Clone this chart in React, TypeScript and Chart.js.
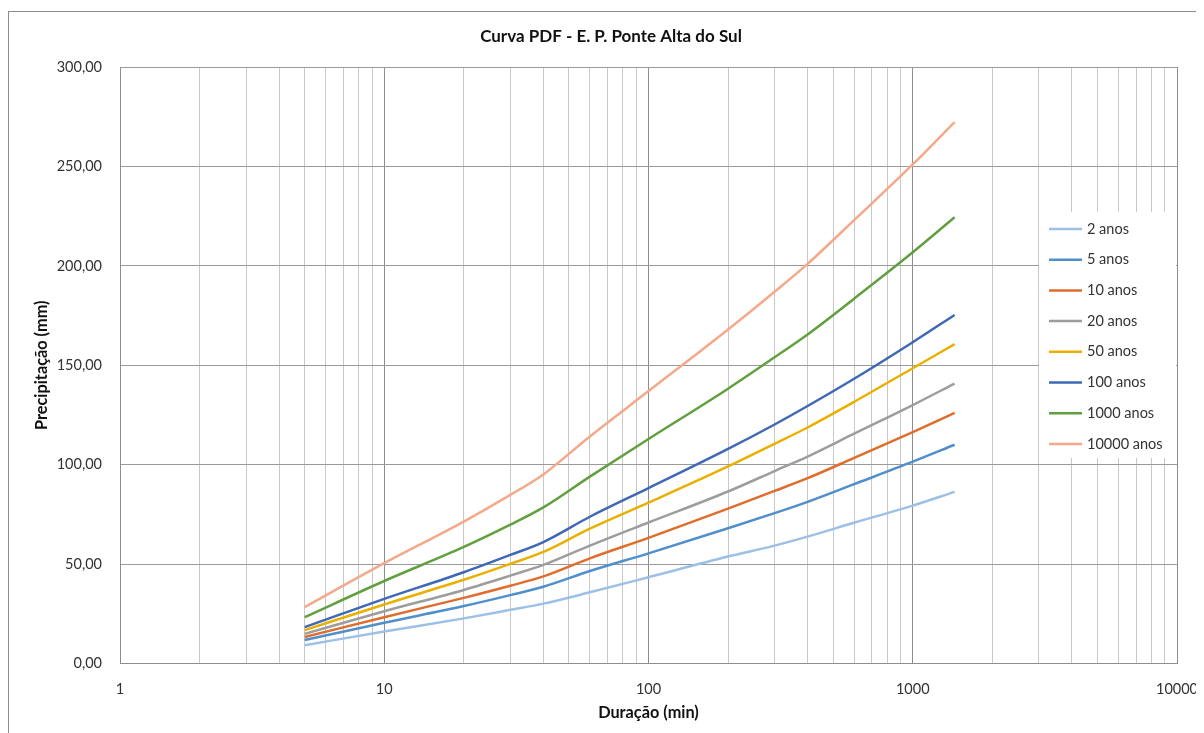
import React, { useEffect, useRef } from 'react';
import { Chart, registerables } from 'chart.js';

Chart.register(...registerables);

// Durations (min)
const durations = [5, 10, 20, 30, 40, 60, 100, 200, 300, 400, 600, 1000, 1440];

const seriesNames = ['2 anos', '5 anos', '10 anos', '20 anos', '50 anos', '100 anos', '1000 anos', '10000 anos'];

const tr2 = [9.2, 16.1, 22.7, 27.0, 30.1, 35.8, 43.4, 53.8, 59.3, 63.8, 70.8, 79.4, 86.3];
const tr5 = [11.8, 20.5, 28.9, 34.4, 38.6, 46.5, 55.4, 68.0, 75.6, 81.3, 90.2, 101.5, 110.0];
const tr10 = [13.3, 23.3, 33.0, 39.1, 43.8, 52.9, 63.2, 77.9, 86.8, 93.2, 103.4, 116.4, 126.0];
const tr20 = [14.9, 26.3, 37.0, 44.2, 49.6, 59.3, 70.9, 86.5, 96.8, 104.1, 115.6, 130.0, 140.8];
const tr50 = [16.8, 29.7, 42.1, 50.1, 56.1, 67.8, 80.9, 99.1, 110.5, 118.7, 131.6, 148.5, 160.6];
const tr100 = [18.3, 32.5, 45.9, 54.6, 61.1, 73.8, 88.2, 107.9, 120.2, 129.5, 143.2, 161.6, 175.3];
const tr1000 = [23.3, 41.5, 58.6, 69.8, 78.5, 94.0, 112.9, 138.2, 154.0, 165.5, 183.5, 206.8, 224.4];
const tr10000 = [28.4, 50.5, 71.4, 84.8, 95.1, 114.2, 137.0, 168.0, 187.0, 201.0, 223.0, 251.0, 272.3];

const seriesValues = [tr2, tr5, tr10, tr20, tr50, tr100, tr1000, tr10000];

const seriesColors = ['#9dc0e6', '#4f8fcb', '#df6d2b', '#9d9d9d', '#eab000', '#3f68b7', '#62a03f', '#f4a98a'];

const xDecades = [1, 10, 100, 1000, 10000];

const titleText = 'Curva PDF - E. P. Ponte Alta do Sul';
const xTitle = 'Duração (min)';
const yTitle = 'Precipitação (mm)';

const FONT = 'Lato, "Open Sans", sans-serif';

const isDecade = (v: number) => xDecades.some((d) => Math.abs(d - v) < 1e-9);

const overlayPlugin = {
  id: 'overlay',
  afterDraw(chart: any) {
    const ctx = chart.ctx as CanvasRenderingContext2D;
    const area = chart.chartArea;
    ctx.save();
    // title
    ctx.fillStyle = '#111111';
    ctx.font = `bold 17px ${FONT}`;
    ctx.textAlign = 'center';
    ctx.textBaseline = 'middle';
    ctx.fillText(titleText, 603, 29);

    // legend
    const lx = area.right - 138;
    const ly = 204;
    ctx.fillStyle = '#ffffff';
    ctx.fillRect(lx, ly, 137, 246);
    ctx.font = `14.5px ${FONT}`;
    ctx.textAlign = 'left';
    chart.data.datasets.forEach((ds: any, i: number) => {
      const y = ly + 17 + i * 30.7;
      ctx.strokeStyle = ds.borderColor;
      ctx.lineWidth = 2.5;
      ctx.beginPath();
      ctx.moveTo(lx + 10, y);
      ctx.lineTo(lx + 43, y);
      ctx.stroke();
      ctx.fillStyle = '#333333';
      ctx.fillText(ds.label, lx + 48, y);
    });
    ctx.restore();
  },
};

export default function App() {
  const canvasRef = useRef<HTMLCanvasElement | null>(null);

  useEffect(() => {
    document.documentElement.style.overflow = 'hidden';
    document.body.style.overflow = 'hidden';
    if (!canvasRef.current) return;
    const datasets = seriesNames.map((name, si) => ({
      label: name,
      data: durations.map((d, i) => ({ x: d, y: seriesValues[si][i] })),
      borderColor: seriesColors[si],
      backgroundColor: seriesColors[si],
      borderWidth: 2.5,
      pointRadius: 0,
      fill: false,
      cubicInterpolationMode: 'monotone' as const,
    }));

    const chart = new Chart(canvasRef.current, {
      type: 'line',
      data: { datasets },
      plugins: [overlayPlugin],
      options: {
        animation: false,
        responsive: false,
        maintainAspectRatio: false,
        layout: { padding: { top: 59, right: 27, left: 0, bottom: 0 } },
        plugins: {
          legend: { display: false },
          title: { display: false },
          tooltip: { enabled: false },
        },
        scales: {
          x: {
            type: 'logarithmic',
            min: 1,
            max: 10000,
            afterFit: (scale: any) => {
              scale.height = 69.5;
            },
            afterBuildTicks: (scale: any) => {
              const ticks: any[] = [];
              for (let dec = 1; dec < 10000; dec *= 10) {
                for (let m = 1; m < 10; m++) ticks.push({ value: dec * m });
              }
              ticks.push({ value: 10000 });
              scale.ticks = ticks;
            },
            grid: {
              drawTicks: true,
              tickLength: 17.6,
              tickColor: 'rgba(0,0,0,0)',
              color: (ctx: any) => (ctx.tick && isDecade(ctx.tick.value) ? '#8e8e8e' : '#c8c8c8'),
              lineWidth: 1,
            },
            border: { display: true, color: '#8e8e8e' },
            ticks: {
              autoSkip: false,
              maxRotation: 0,
              padding: 0,
              color: '#333333',
              font: { family: FONT, size: 14.5 },
              callback: (v: any) => (isDecade(Number(v)) ? String(Number(v)) : ''),
            },
            title: {
              display: true,
              text: xTitle,
              color: '#111111',
              font: { family: FONT, size: 16.3, weight: 'bold' },
              padding: { top: 0, bottom: 10.2 },
            },
          },
          y: {
            type: 'linear',
            min: 0,
            max: 300,
            afterFit: (scale: any) => {
              scale.width = 112;
            },
            grid: {
              drawTicks: true,
              tickLength: 18,
              tickColor: 'rgba(0,0,0,0)',
              color: '#9a9a9a',
              lineWidth: 1,
            },
            border: { display: true, color: '#8e8e8e' },
            ticks: {
              stepSize: 50,
              padding: 0,
              color: '#333333',
              font: { family: FONT, size: 14.5 },
              callback: (v: any) => Number(v).toFixed(2).replace('.', ','),
            },
            title: {
              display: true,
              text: yTitle,
              color: '#111111',
              font: { family: FONT, size: 16.3, weight: 'bold' },
              padding: { top: 24.2, bottom: 0 },
            },
          },
        },
      } as any,
    });
    return () => chart.destroy();
  }, []);

  return (
    <div style={{ position: 'relative', width: 1196, height: 725, overflow: 'hidden' }}>
      <div
        style={{
          position: 'absolute',
          left: 0,
          top: 3,
          width: 1300,
          height: 800,
          border: '1px solid #8c8c8c',
          boxSizing: 'border-box',
        }}
      />
      <canvas
        ref={canvasRef}
        width={1196}
        height={725}
        style={{ position: 'absolute', left: 0, top: 0, width: 1196, height: 725 }}
      />
    </div>
  );
}
